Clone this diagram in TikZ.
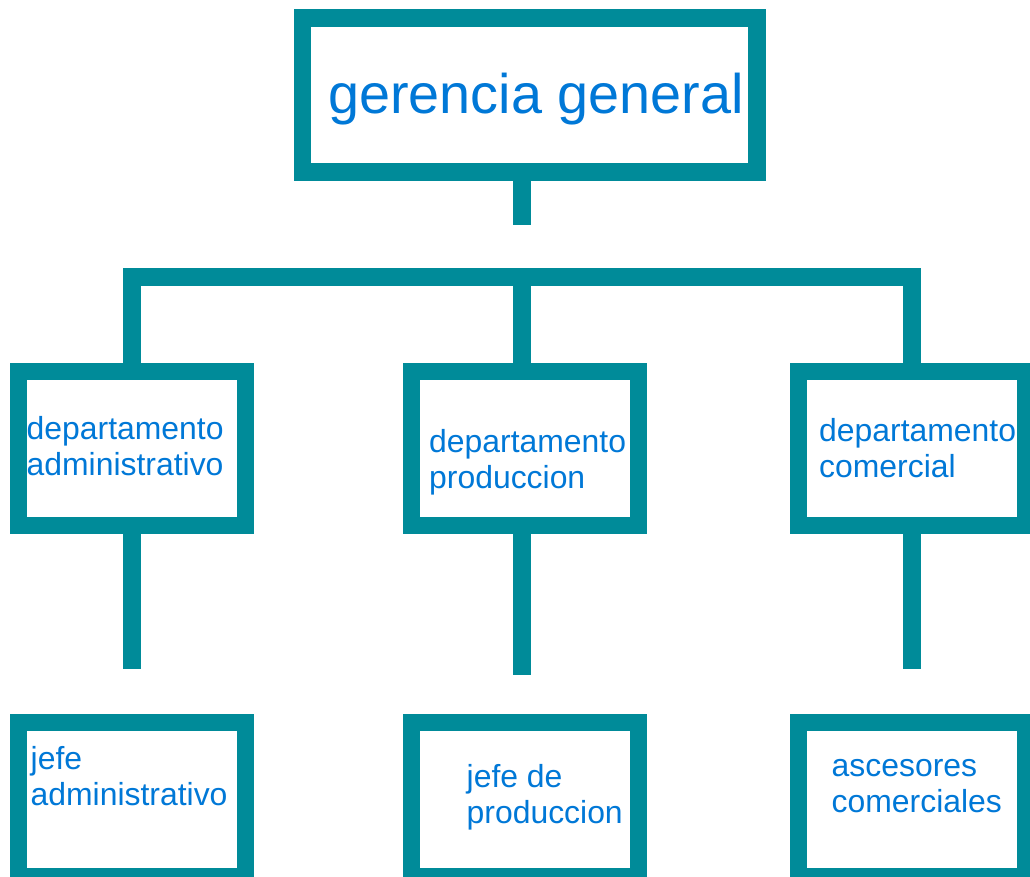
\documentclass[tikz,border=0pt]{standalone}
\usepackage{fontspec}
\setmainfont{Liberation Sans}
\definecolor{teal}{RGB}{0,139,153}
\definecolor{txtblue}{RGB}{0,120,215}
\begin{document}
\begin{tikzpicture}[x=1pt,y=-1pt,
  orgbox/.style={draw=teal,line width=17.4pt,fill=white,rectangle,inner sep=0pt,minimum width=227pt,minimum height=154.5pt},
  link/.style={draw=teal,line width=17.4pt,line cap=butt,line join=miter},
  lbl/.style={text=txtblue,anchor=base west,inner sep=0pt,align=left,font=\fontsize{31.9}{35.7}\selectfont}]
\useasboundingbox (0,0) rectangle (1030,877);
\begin{scope}
\clip (0,0) rectangle (1030,877);
% boxes
\node[orgbox,minimum width=454.6pt,minimum height=154.3pt] (top) at (529.5,95) {};
\node[orgbox] (ml) at (131.8,448.5) {};
\node[orgbox] (mm) at (525,448.5) {};
\node[orgbox] (mr) at (911.9,448.5) {};
\node[orgbox] (bl) at (131.8,799.5) {};
\node[orgbox] (bm) at (525,799.5) {};
\node[orgbox] (br) at (911.9,799.5) {};
% coordinates
\coordinate (stemend) at (522,225.3);
\coordinate (cl) at (132,277);
\coordinate (cm) at (522,277);
\coordinate (cr) at (912,277);
\coordinate (sl) at (132,669.3);
\coordinate (sm) at (522,675);
\coordinate (sr) at (912,669.3);
% connectors
\draw[link] (top.south -| stemend) -- (stemend);
\draw[link] (ml.north -| cl) -- (cl) -- (cr) -- (mr.north -| cr);
\draw[link] (cm) -- (mm.north -| cm);
\draw[link] (ml.south -| sl) -- (sl);
\draw[link] (mm.south -| sm) -- (sm);
\draw[link] (mr.south -| sr) -- (sr);
% texts (anchor is the baseline of the last line)
\node[lbl,font=\fontsize{55.8}{60}\selectfont] (ttop) at (328,113.3) {gerencia general};
\node[lbl] (tml) at (26.5,475) {departamento\\administrativo};
\node[lbl] (tmm) at (429,488.4) {departamento\\produccion};
\node[lbl] (tmr) at (819,477.4) {departamento\\comercial};
\node[lbl] (tbl) at (30.5,805) {jefe\\administrativo};
\node[lbl] (tbm) at (466.5,823) {jefe de\\produccion};
\node[lbl] (tbr) at (831.5,812.2) {ascesores\\comerciales};
\end{scope}
\end{tikzpicture}
\end{document}
